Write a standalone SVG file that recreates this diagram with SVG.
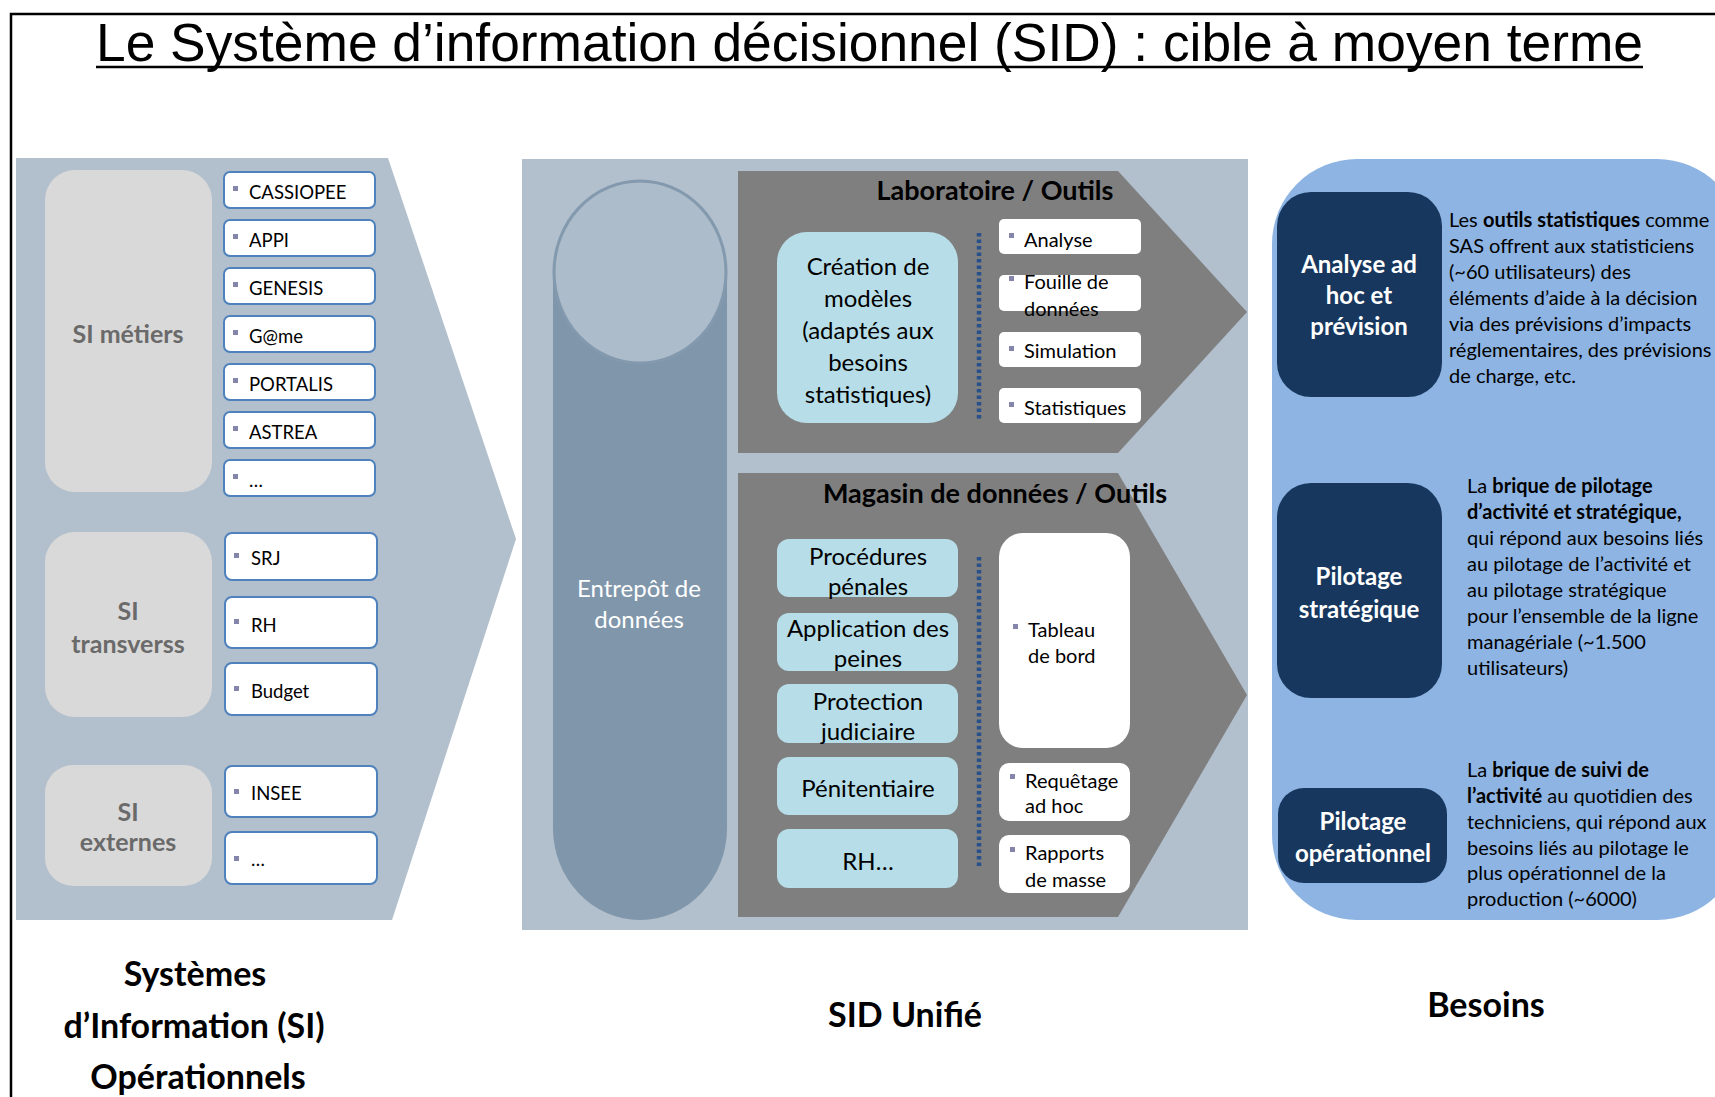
<svg xmlns="http://www.w3.org/2000/svg" width="1715" height="1097" viewBox="0 0 1715 1097">
<style>
.f{font-family:Lato,"Open Sans","DejaVu Sans",sans-serif}
.b{font-weight:bold}
.item{fill:#ffffff;stroke:#4f81bd;stroke-width:2}
.wbox{fill:#ffffff}
.bul{fill:#8585ab}
.it{font-size:18.5px;fill:#000}
.tool{font-size:20px;fill:#000}
.silab{font-size:25px;font-weight:bold;fill:#6a6a6a;text-anchor:middle}
.cyan{fill:#b7dee8}
.ct{font-size:24px;fill:#000;text-anchor:middle}
.navy{fill:#17375e}
.nt{font-size:24px;font-weight:bold;fill:#fff;text-anchor:middle}
.desc{font-size:20px;fill:#000}
.foot{font-size:34px;font-weight:bold;fill:#000;text-anchor:middle}
.ptitle{font-size:27px;font-weight:bold;fill:#000;text-anchor:middle}
.dots{stroke:#28508a;stroke-width:4.5;stroke-dasharray:3.5 3;fill:none}
</style>
<rect width="1715" height="1097" fill="#ffffff"/>
<g id="frame">
<path d="M11,1097 V14 H1715" fill="none" stroke="#000" stroke-width="2.5"/>
</g>
<g id="title">
<text x="96" y="61" font-family="'Liberation Sans',Arial,sans-serif" font-size="54" textLength="1547" lengthAdjust="spacingAndGlyphs" fill="#000">Le Système d’information décisionnel (SID) : cible à moyen terme</text>
<line x1="96" y1="67" x2="1643" y2="67" stroke="#000" stroke-width="2.5"/>
</g>

<g id="si-operationnels">
<polygon points="16,158 388,158 516,539 392,920 16,920" fill="#b2bfcc"/>
<g id="si-metiers">
<rect x="45" y="170" width="167" height="322" rx="30" fill="#d9d9d9"/>
<text class="f silab" x="128" y="343">SI métiers</text>
</g>
<g id="item-cassiopee"><rect class="item" x="224" y="172" width="151" height="36" rx="6"/><rect class="bul" x="233" y="186" width="5" height="5"/><text class="f it" x="249" y="199">CASSIOPEE</text></g>
<g id="item-appi"><rect class="item" x="224" y="220" width="151" height="36" rx="6"/><rect class="bul" x="233" y="234" width="5" height="5"/><text class="f it" x="249" y="247">APPI</text></g>
<g id="item-genesis"><rect class="item" x="224" y="268" width="151" height="36" rx="6"/><rect class="bul" x="233" y="282" width="5" height="5"/><text class="f it" x="249" y="295">GENESIS</text></g>
<g id="item-game"><rect class="item" x="224" y="316" width="151" height="36" rx="6"/><rect class="bul" x="233" y="330" width="5" height="5"/><text class="f it" x="249" y="343">G@me</text></g>
<g id="item-portalis"><rect class="item" x="224" y="364" width="151" height="36" rx="6"/><rect class="bul" x="233" y="378" width="5" height="5"/><text class="f it" x="249" y="391">PORTALIS</text></g>
<g id="item-astrea"><rect class="item" x="224" y="412" width="151" height="36" rx="6"/><rect class="bul" x="233" y="426" width="5" height="5"/><text class="f it" x="249" y="439">ASTREA</text></g>
<g id="item-etc1"><rect class="item" x="224" y="460" width="151" height="36" rx="6"/><rect class="bul" x="233" y="474" width="5" height="5"/><text class="f it" x="249" y="487">…</text></g>

<g id="si-transverses">
<rect x="45" y="532" width="167" height="185" rx="30" fill="#d9d9d9"/>
<text class="f silab" x="128" y="620">SI</text>
<text class="f silab" x="128" y="653">transverss</text>
</g>
<g id="item-srj"><rect class="item" x="225" y="533" width="152" height="47" rx="7"/><rect class="bul" x="234" y="553" width="5" height="5"/><text class="f it" x="251" y="565">SRJ</text></g>
<g id="item-rh"><rect class="item" x="225" y="597" width="152" height="51" rx="7"/><rect class="bul" x="234" y="619" width="5" height="5"/><text class="f it" x="251" y="632">RH</text></g>
<g id="item-budget"><rect class="item" x="225" y="663" width="152" height="52" rx="7"/><rect class="bul" x="234" y="686" width="5" height="5"/><text class="f it" x="251" y="698">Budget</text></g>

<g id="si-externes">
<rect x="45" y="765" width="167" height="121" rx="28" fill="#d9d9d9"/>
<text class="f silab" x="128" y="821">SI</text>
<text class="f silab" x="128" y="851">externes</text>
</g>
<g id="item-insee"><rect class="item" x="225" y="766" width="152" height="51" rx="7"/><rect class="bul" x="234" y="789" width="5" height="5"/><text class="f it" x="251" y="800">INSEE</text></g>
<g id="item-etc2"><rect class="item" x="225" y="832" width="152" height="52" rx="7"/><rect class="bul" x="234" y="856" width="5" height="5"/><text class="f it" x="251" y="866">…</text></g>
</g>

<g id="sid-unifie">
<rect x="522" y="159" width="726" height="771" fill="#b2bfcc"/>
<g id="entrepot">
<path d="M553,272 V828 A87,92 0 0 0 727,828 V272 Z" fill="#7f96ab"/>
<ellipse cx="640" cy="272" rx="86" ry="91" fill="#adbccb" stroke="#8399ae" stroke-width="3"/>
<text class="f" x="639" y="597" font-size="24" fill="#fff" text-anchor="middle">Entrepôt de</text>
<text class="f" x="639" y="628" font-size="24" fill="#fff" text-anchor="middle">données</text>
</g>

<g id="laboratoire">
<polygon points="738,171 1118,171 1247,312 1118,453 738,453" fill="#7f7f7f"/>
<text class="f ptitle" x="995" y="200">Laboratoire / Outils</text>
<g id="creation-modeles">
<rect class="cyan" x="777" y="232" width="181" height="191" rx="30"/>
<text class="f ct" x="868" y="275" font-size="25">Création de</text>
<text class="f ct" x="868" y="307" font-size="25">modèles</text>
<text class="f ct" x="868" y="339" font-size="25">(adaptés aux</text>
<text class="f ct" x="868" y="371" font-size="25">besoins</text>
<text class="f ct" x="868" y="403" font-size="25">statistiques)</text>
</g>
<line class="dots" x1="979" y1="233" x2="979" y2="421"/>
<g id="tool-analyse"><rect class="wbox" x="999" y="219" width="142" height="35" rx="5"/><rect class="bul" x="1009" y="233" width="5" height="5"/><text class="f tool" x="1024" y="247">Analyse</text></g>
<g id="tool-fouille"><rect class="wbox" x="999" y="275" width="142" height="36" rx="5"/><rect class="bul" x="1009" y="276" width="5" height="5"/><text class="f tool" x="1024" y="289">Fouille de</text><text class="f tool" x="1024" y="316">données</text></g>
<g id="tool-simulation"><rect class="wbox" x="999" y="332" width="142" height="35" rx="5"/><rect class="bul" x="1009" y="346" width="5" height="5"/><text class="f tool" x="1024" y="358">Simulation</text></g>
<g id="tool-statistiques"><rect class="wbox" x="999" y="388" width="142" height="35" rx="5"/><rect class="bul" x="1009" y="402" width="5" height="5"/><text class="f tool" x="1024" y="415">Statistiques</text></g>
</g>

<g id="magasin">
<polygon points="738,473 1118,473 1247,695 1118,917 738,917" fill="#7f7f7f"/>
<text class="f ptitle" x="995" y="503">Magasin de données / Outils</text>
<g id="dm-procedures"><rect class="cyan" x="777" y="539" width="181" height="58" rx="12"/><text class="f ct" x="868" y="565">Procédures</text><text class="f ct" x="868" y="595">pénales</text></g>
<g id="dm-application"><rect class="cyan" x="777" y="613" width="181" height="58" rx="12"/><text class="f ct" x="868" y="637">Application des</text><text class="f ct" x="868" y="667">peines</text></g>
<g id="dm-protection"><rect class="cyan" x="777" y="684" width="181" height="59" rx="12"/><text class="f ct" x="868" y="710">Protection</text><text class="f ct" x="868" y="740">judiciaire</text></g>
<g id="dm-penitentiaire"><rect class="cyan" x="777" y="757" width="181" height="58" rx="12"/><text class="f ct" x="868" y="797">Pénitentiaire</text></g>
<g id="dm-rh"><rect class="cyan" x="777" y="829" width="181" height="59" rx="12"/><text class="f ct" x="868" y="870">RH…</text></g>
<line class="dots" x1="979" y1="557" x2="979" y2="866"/>
<g id="tool-tableau"><rect class="wbox" x="999" y="533" width="131" height="215" rx="24"/><rect class="bul" x="1013" y="624" width="5" height="5"/><text class="f tool" x="1028" y="637">Tableau</text><text class="f tool" x="1028" y="663">de bord</text></g>
<g id="tool-requetage"><rect class="wbox" x="999" y="763" width="131" height="58" rx="10"/><rect class="bul" x="1010" y="774" width="5" height="5"/><text class="f tool" x="1025" y="788">Requêtage</text><text class="f tool" x="1025" y="813">ad hoc</text></g>
<g id="tool-rapports"><rect class="wbox" x="999" y="835" width="131" height="58" rx="10"/><rect class="bul" x="1010" y="847" width="5" height="5"/><text class="f tool" x="1025" y="860">Rapports</text><text class="f tool" x="1025" y="887">de masse</text></g>
</g>
</g>

<g id="besoins">
<rect x="1272" y="159" width="470" height="761" rx="85" fill="#8db4e2"/>
<g id="analyse-adhoc">
<rect class="navy" x="1277" y="192" width="165" height="205" rx="34"/>
<text class="f nt" x="1359" y="273">Analyse ad</text>
<text class="f nt" x="1359" y="304">hoc et</text>
<text class="f nt" x="1359" y="335">prévision</text>
<text class="f desc" x="1449"><tspan x="1449" y="227">Les <tspan font-weight="bold">outils statistiques</tspan> comme</tspan><tspan x="1449" y="253">SAS offrent aux statisticiens</tspan><tspan x="1449" y="279">(~60 utilisateurs) des</tspan><tspan x="1449" y="305">éléments d’aide à la décision</tspan><tspan x="1449" y="331">via des prévisions d’impacts</tspan><tspan x="1449" y="357">réglementaires, des prévisions</tspan><tspan x="1449" y="383">de charge, etc.</tspan></text>
</g>
<g id="pilotage-strategique">
<rect class="navy" x="1277" y="483" width="165" height="215" rx="34"/>
<text class="f nt" x="1359" y="585">Pilotage</text>
<text class="f nt" x="1359" y="618">stratégique</text>
<text class="f desc" x="1467"><tspan x="1467" y="493">La <tspan font-weight="bold">brique de pilotage</tspan></tspan><tspan x="1467" y="519" font-weight="bold">d’activité et stratégique,</tspan><tspan x="1467" y="545">qui répond aux besoins liés</tspan><tspan x="1467" y="571">au pilotage de l’activité et</tspan><tspan x="1467" y="597">au pilotage stratégique</tspan><tspan x="1467" y="623">pour l’ensemble de la ligne</tspan><tspan x="1467" y="649">managériale (~1.500</tspan><tspan x="1467" y="675">utilisateurs)</tspan></text>
</g>
<g id="pilotage-operationnel">
<rect class="navy" x="1278" y="788" width="169" height="95" rx="26"/>
<text class="f nt" x="1363" y="830">Pilotage</text>
<text class="f nt" x="1363" y="862">opérationnel</text>
<text class="f desc" x="1467"><tspan x="1467" y="777">La <tspan font-weight="bold">brique de suivi de</tspan></tspan><tspan x="1467" y="803"><tspan font-weight="bold">l’activité</tspan> au quotidien des</tspan><tspan x="1467" y="829">techniciens, qui répond aux</tspan><tspan x="1467" y="855">besoins liés au pilotage le</tspan><tspan x="1467" y="880">plus opérationnel de la</tspan><tspan x="1467" y="906">production (~6000)</tspan></text>
</g>
</g>

<g id="labels">
<text class="f foot" x="195" y="986">Systèmes</text>
<text class="f foot" x="194" y="1038">d’Information (SI)</text>
<text class="f foot" x="198" y="1089">Opérationnels</text>
<text class="f foot" x="905" y="1027">SID Unifié</text>
<text class="f foot" x="1486" y="1017">Besoins</text>
</g>
<g id="connectors"></g>
</svg>
